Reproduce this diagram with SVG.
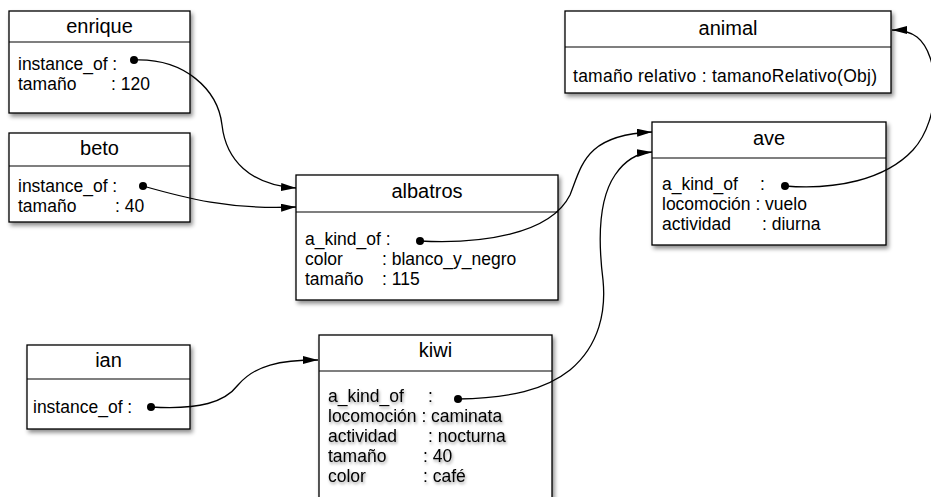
<svg xmlns="http://www.w3.org/2000/svg" width="931" height="497" viewBox="0 0 931 497">
<style>
.box{fill:#fff;stroke:#000;stroke-width:1.3;filter:url(#sh)}
.div{stroke:#000;stroke-width:1.2}
.t{font-family:"Liberation Sans",Arial,Helvetica,sans-serif;font-size:17.5px;fill:#000}
.ti{font-family:"Liberation Sans",Arial,Helvetica,sans-serif;font-size:20px;fill:#000;text-anchor:middle}
.c{fill:none;stroke:#000;stroke-width:1.3}
.dot{fill:#000}
.ts{filter:url(#tsh)}
</style>
<defs>
<filter id="sh" x="-10%" y="-10%" width="130%" height="130%">
<feDropShadow dx="2" dy="3" stdDeviation="2" flood-color="#000" flood-opacity="0.45"/>
</filter>
<filter id="tsh" x="-10%" y="-30%" width="130%" height="160%">
<feDropShadow dx="1" dy="2" stdDeviation="1.8" flood-color="#000" flood-opacity="0.4"/>
</filter>
<marker id="ah" markerUnits="userSpaceOnUse" markerWidth="16" markerHeight="10" refX="15" refY="4" orient="auto">
<path d="M0,0 L15,4 L0,8 z" fill="#000"/>
</marker>
</defs>

<g id="enrique">
<rect class="box" x="9" y="11" width="181" height="102"/>
<line class="div" x1="9" y1="42" x2="190" y2="42"/>
<text class="ti" x="99.5" y="33">enrique</text>
<text class="t" x="18" y="70">instance_of :</text>
<text class="t" x="18" y="90">tamaño</text>
<text class="t" x="111" y="90">: 120</text>
<circle class="dot" cx="134" cy="60" r="4"/>
</g>

<g id="beto">
<rect class="box" x="9" y="133" width="181" height="89"/>
<line class="div" x1="9" y1="166" x2="190" y2="166"/>
<text class="ti" x="99.5" y="155">beto</text>
<text class="t" x="18" y="192">instance_of :</text>
<text class="t" x="18" y="212">tamaño</text>
<text class="t" x="115" y="212">: 40</text>
<circle class="dot" cx="143" cy="186" r="4"/>
</g>

<g id="albatros">
<rect class="box" x="296" y="175" width="262" height="125"/>
<line class="div" x1="296" y1="212" x2="558" y2="212"/>
<text class="ti" x="427" y="198">albatros</text>
<text class="t" x="305" y="245">a_kind_of :</text>
<text class="t" x="305" y="265">color</text>
<text class="t" x="382" y="265">: blanco_y_negro</text>
<text class="t" x="305" y="285">tamaño</text>
<text class="t" x="382" y="285">: 115</text>
<circle class="dot" cx="420" cy="241" r="4"/>
</g>

<g id="animal">
<rect class="box" x="565" y="11" width="326" height="82"/>
<line class="div" x1="565" y1="47" x2="891" y2="47"/>
<text class="ti" x="728" y="35">animal</text>
<text class="t" x="573" y="82" textLength="304" lengthAdjust="spacing">tamaño relativo : tamanoRelativo(Obj)</text>
</g>

<g id="ave">
<rect class="box" x="652" y="122" width="234" height="123"/>
<line class="div" x1="652" y1="158" x2="886" y2="158"/>
<text class="ti" x="769" y="145">ave</text>
<text class="t" x="662" y="190">a_kind_of</text>
<text class="t" x="760" y="190">:</text>
<text class="t" x="662" y="210">locomoción : vuelo</text>
<text class="t" x="662" y="230">actividad</text>
<text class="t" x="762" y="230">: diurna</text>
<circle class="dot" cx="785" cy="186" r="4"/>
</g>

<g id="ian">
<rect class="box" x="27" y="345" width="163" height="84"/>
<line class="div" x1="27" y1="379" x2="190" y2="379"/>
<text class="ti" x="108.5" y="367">ian</text>
<text class="t" x="33" y="413">instance_of :</text>
<circle class="dot" cx="151" cy="407" r="4"/>
</g>

<g id="kiwi">
<rect class="box" x="319" y="335" width="233" height="180"/>
<line class="div" x1="319" y1="371" x2="552" y2="371"/>
<text class="ti" x="435.5" y="357">kiwi</text>
<g class="ts">
<text class="t" x="328" y="402">a_kind_of</text>
<text class="t" x="428" y="402">:</text>
<text class="t" x="328" y="422">locomoción : caminata</text>
<text class="t" x="328" y="442">actividad</text>
<text class="t" x="428" y="442">: nocturna</text>
<text class="t" x="328" y="462">tamaño</text>
<text class="t" x="423" y="462">: 40</text>
<text class="t" x="328" y="482">color</text>
<text class="t" x="423" y="482">: café</text>
</g>
<circle class="dot" cx="458" cy="399" r="4"/>
</g>

<g id="connectors">
<path class="c" marker-end="url(#ah)" d="M134,60 C185,58 218,90 222,125 C226,160 250,185 296,188"/>
<path class="c" marker-end="url(#ah)" d="M143,186 C185,198 230,210 296,207"/>
<path class="c" marker-end="url(#ah)" d="M420,241 C480,244 550,235 570,195 C582,165 585,135 652,132"/>
<path class="c" marker-end="url(#ah)" d="M458,399 C510,398 545,390 570,370 C600,345 606,310 603,280 C598,240 598,200 615,175 C625,160 638,153 652,152"/>
<path class="c" marker-end="url(#ah)" d="M785,186 C835,190 885,180 913,150 C942,118 940,55 917,37 C909,31 900,30 892,30"/>
<path class="c" marker-end="url(#ah)" d="M151,407 C200,410 225,402 238,385 C255,365 280,360 318,360"/>
</g>
</svg>
